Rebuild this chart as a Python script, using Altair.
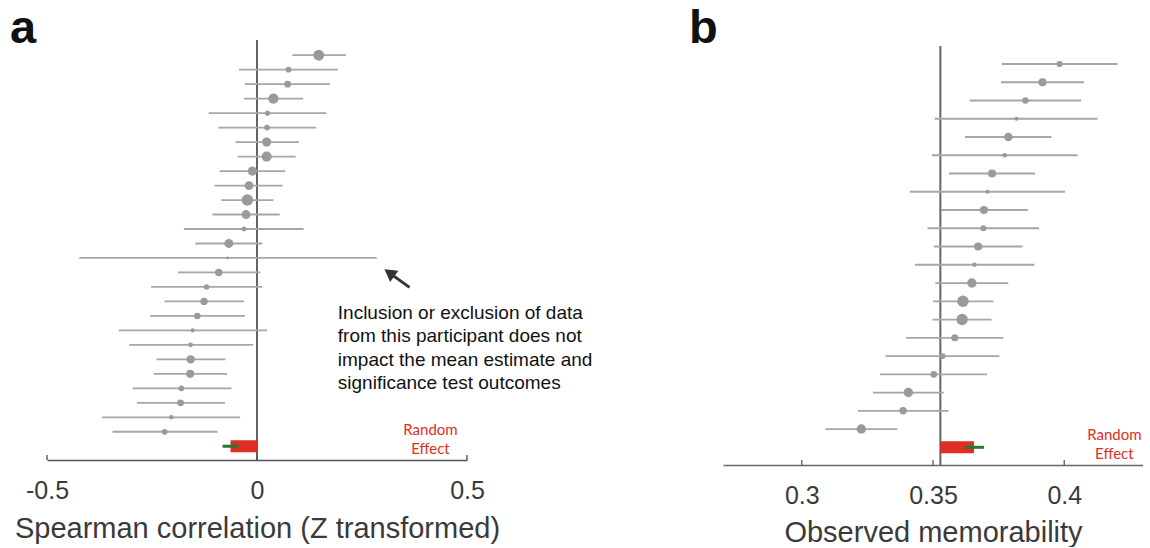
import altair as alt
import pandas as pd

# ---------------- Panel a: Spearman correlation (Z transformed) ----------------
mean_a = [0.147, 0.075, 0.073, 0.039, 0.025, 0.024, 0.023, 0.023, -0.011, -0.019,
          -0.023, -0.026, -0.031, -0.067, -0.070, -0.091, -0.120, -0.126, -0.142, -0.153,
          -0.158, -0.158, -0.159, -0.180, -0.182, -0.204, -0.220]
lo_a = [0.084, -0.043, -0.029, -0.031, -0.115, -0.092, -0.051, -0.046, -0.089, -0.101,
        -0.085, -0.106, -0.174, -0.147, -0.423, -0.188, -0.252, -0.220, -0.254, -0.329,
        -0.304, -0.239, -0.246, -0.296, -0.286, -0.369, -0.344]
hi_a = [0.212, 0.193, 0.174, 0.110, 0.165, 0.141, 0.100, 0.092, 0.067, 0.061,
        0.039, 0.054, 0.111, 0.013, 0.285, 0.008, 0.013, -0.031, -0.029, 0.024,
        -0.009, -0.075, -0.071, -0.061, -0.076, -0.040, -0.094]
weight_a = [114, 32, 45, 100, 25, 32, 81, 100, 81, 76, 128, 76, 22, 76, 7, 53, 28, 53,
            40, 16, 22, 69, 64, 32, 45, 18, 32]
re_a = {"mean": -0.063, "lo": -0.082, "hi": -0.044, "ref": 0.0}
ticks_a = [-0.5, 0, 0.5]

# ---------------- Panel b: Observed memorability ----------------
mean_b = [0.3982, 0.3917, 0.3852, 0.3818, 0.3787, 0.3773, 0.3725, 0.3708, 0.3694, 0.3692,
          0.3672, 0.3658, 0.3648, 0.3614, 0.3611, 0.3583, 0.3537, 0.3503, 0.3406, 0.3386,
          0.3227]
lo_b = [0.3762, 0.3759, 0.3640, 0.3506, 0.3622, 0.3496, 0.3561, 0.3412, 0.3532, 0.3479,
        0.3503, 0.3431, 0.3509, 0.3499, 0.3498, 0.3397, 0.3319, 0.3298, 0.3271, 0.3214,
        0.3090]
hi_b = [0.4203, 0.4075, 0.4064, 0.4127, 0.3951, 0.4051, 0.3889, 0.4003, 0.3861, 0.3904,
        0.3841, 0.3886, 0.3787, 0.3730, 0.3723, 0.3768, 0.3753, 0.3706, 0.3541, 0.3559,
        0.3364]
weight_b = [36, 64, 40, 16, 69, 20, 64, 16, 64, 36, 64, 20, 86, 128, 128, 49, 32, 45,
            86, 53, 86]
re_b = {"mean": 0.3656, "lo": 0.3621, "hi": 0.3694, "ref": 0.3528}
ticks_b = [0.3, 0.35, 0.4]

annotation = ["Inclusion or exclusion of data",
              "from this participant does not",
              "impact the mean estimate and",
              "significance test outcomes"]
re_text = ["Random", "Effect"]

FONT = "Liberation Sans"
TXT = "#3a3a3a"
LINE = "#a6a6a6"
DOT = "#9a9a9a"
RED = "#de2f22"
GREEN = "#1f7a33"
W = 420


def make_panel(mean, lo, hi, weight, re, ticks, xdom, ydom, height, title,
               ref_color, ref_width, axis_color, title_y, letter, letter_x,
               re_label_pos, ref_y=None, extra=None):
    n = len(mean)
    df = pd.DataFrame({"row": list(range(1, n + 1)), "mean": mean, "lo": lo,
                       "hi": hi, "w": weight})
    re_row = n + 1
    dre = pd.DataFrame({"row": [re_row], "mean": [re["mean"]], "lo": [re["lo"]],
                        "hi": [re["hi"]], "ref": [re["ref"]]})
    dref = pd.DataFrame({"ref": [re["ref"]]})
    dticks = pd.DataFrame({"t": ticks})

    xs = alt.Scale(domain=xdom, nice=False, zero=False, padding=0)
    ys = alt.Scale(domain=ydom, reverse=True, nice=False, zero=False, padding=0)
    ax = alt.Axis(values=ticks, ticks=False, tickSize=0, grid=False, labelFlush=False,
                  labelOverlap=False, labelFontSize=25, labelPadding=38,
                  labelBaseline="alphabetic", labelColor=TXT, labelFont=FONT,
                  labelExpr="'' + datum.value", title=title, titleFontSize=29,
                  titleFontWeight="normal", titleColor=TXT, titleFont=FONT,
                  titleBaseline="alphabetic", titleY=title_y, domainColor=axis_color,
                  domainWidth=1.4)

    def X(field):
        return alt.X(field, type="quantitative", scale=xs, axis=ax)

    def Y(field):
        return alt.Y(field, type="quantitative", scale=ys, axis=None)

    if ref_y is None:
        ref = alt.Chart(dref).mark_rule(color=ref_color, strokeWidth=ref_width).encode(
            x=X("ref"))
    else:
        ref = alt.Chart(dref).mark_rule(color=ref_color, strokeWidth=ref_width).encode(
            x=X("ref"), y=alt.value(ref_y), y2=alt.value(height))

    tick_rules = alt.Chart(dticks).mark_rule(color=axis_color, strokeWidth=1.4).encode(
        x=X("t"), y=alt.value(height - 5), y2=alt.value(height))

    bars = alt.Chart(df).mark_rule(color=LINE, strokeWidth=1.8).encode(
        x=X("lo"), x2="hi", y=Y("row"))
    dots = alt.Chart(df).mark_circle(color=DOT, opacity=1).encode(
        x=X("mean"), y=Y("row"),
        size=alt.Size("w:Q", scale=alt.Scale(domain=[0, 128], range=[0, 132]),
                      legend=None))
    re_bar = alt.Chart(dre).mark_bar(color=RED, height=12).encode(
        x=X("ref"), x2="mean", y=Y("row"))
    re_ci = alt.Chart(dre).mark_rule(color=GREEN, strokeWidth=3).encode(
        x=X("lo"), x2="hi", y=Y("row"))

    re_lbl = alt.Chart(pd.DataFrame({"k": [0]})).mark_text(
        align="center", baseline="alphabetic", font="Lato", fontSize=15, color=RED,
        lineHeight=19.3).encode(
        x=alt.X(datum=re_label_pos[0], type="quantitative", scale=xs, axis=ax),
        y=alt.Y(datum=re_label_pos[1], type="quantitative", scale=ys, axis=None),
        text=alt.value(re_text))

    let = alt.Chart(pd.DataFrame({"k": [0]})).mark_text(
        text=letter, align="left", baseline="alphabetic", font=FONT, fontSize=47,
        fontWeight="bold", color="#111111").encode(
        x=alt.value(letter_x), y=alt.value(3))

    layers = [ref, tick_rules, bars, dots, re_bar, re_ci, re_lbl, let]
    if extra is not None:
        layers += extra(X, Y, xs, ys, ax)
    return alt.layer(*layers).properties(width=W, height=height)


def annot_a(X, Y, xs, ys, ax):
    one = pd.DataFrame({"k": [0]})
    txt = alt.Chart(one).mark_text(
        align="left", baseline="alphabetic", font=FONT, fontSize=19, color="#111111",
        lineHeight=23.3).encode(
        x=alt.X(datum=0.1924, type="quantitative", scale=xs, axis=ax),
        y=alt.Y(datum=19.22, type="quantitative", scale=ys, axis=None),
        text=alt.value(annotation))
    arrow = pd.DataFrame({"x0": [0.3631], "y0": [17.03], "x1": [0.3152], "y1": [16.03]})
    shaft = alt.Chart(arrow).mark_rule(color="#333333", strokeWidth=3).encode(
        x=X("x0"), y=Y("y0"), x2="x1", y2="y1")
    head = alt.Chart(arrow).mark_point(shape="triangle-up", filled=True, size=196,
                                        angle=306, color="#333333", opacity=1).encode(
        x=X("x1"), y=Y("y1"))
    return [txt, shaft, head]


panel_a = make_panel(mean_a, lo_a, hi_a, weight_a, re_a, ticks_a, [-0.5, 0.5],
                     [-0.05, 28.95], 420, "Spearman correlation (Z transformed)",
                     "#222222", 1.4, "#555555", 77, "a", -37, (0.413, 27.23),
                     extra=annot_a)
panel_b = make_panel(mean_b, lo_b, hi_b, weight_b, re_b, ticks_b, [0.27, 0.43],
                     [-0.315, 22.97], 425, "Observed memorability",
                     "#666666", 2, "#666666", 76, "b", -34, (0.4191, 21.6), ref_y=6)

chart = alt.hconcat(panel_a, panel_b, spacing=256, bounds="flush").properties(
    padding={"left": 10, "top": 5, "right": 0, "bottom": 0}
).configure_view(stroke=None)

chart.save("out.html", embed_options={"renderer": "svg", "actions": False})
